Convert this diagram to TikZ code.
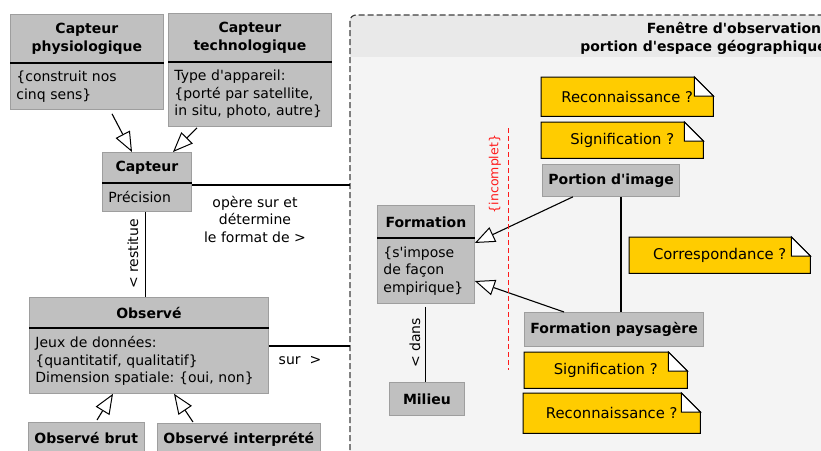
\documentclass[tikz,border=0pt]{standalone}
\usepackage{fontspec}
\setmainfont{DejaVu Sans}[Ligatures=TeXOff]
\usetikzlibrary{arrows.meta,calc}
\pgfdeclarelayer{frame}
\pgfdeclarelayer{notes}
\pgfsetlayers{frame,notes,main}
\frenchspacing

\definecolor{boxgray}{HTML}{C0C0C0}
\definecolor{boxline}{HTML}{9E9E9E}
\definecolor{noteyellow}{HTML}{FFCC00}
\definecolor{winhead}{HTML}{E9E9E9}
\definecolor{winbody}{HTML}{F4F4F4}
\definecolor{winedge}{HTML}{404040}
\definecolor{constraint}{HTML}{FF1A1A}

\newcommand{\txtsize}{\fontsize{14}{17.5}\selectfont}

\tikzset{
  every node/.style={font=\txtsize},
  classbox/.style={draw=boxline, fill=boxgray, anchor=north west,
    inner xsep=6pt, inner ysep=0pt, line width=0.8pt},
  classhead/.style={classbox, font=\txtsize\bfseries, align=center},
  classbody/.style={classbox, align=left},
  divider/.style={line width=1.2pt, black},
  link/.style={line width=1.1pt, black},
  inherit/.style={link, -{Triangle[length=20pt,width=16pt,fill=white,line width=1pt]}},
  notebox/.style={anchor=north west, inner sep=0pt, font=\fontsize{14.8}{17.5}\selectfont},
  notepaper/.style={fill=noteyellow, draw=black, line width=1pt},
  notefold/.style={fill=white, draw=black, line width=1pt},
  frameedge/.style={draw=winedge, line width=1.2pt, dash pattern=on 6pt off 3pt, rounded corners=6pt},
  linklabel/.style={inner sep=0pt, align=center},
}

% folded-corner note drawn behind its text
\newcommand{\notepaper}[1]{%
  \begin{pgfonlayer}{notes}
    \filldraw[notepaper] (#1.north west) -- ([xshift=-19pt]#1.north east)
      -- ([yshift=-19pt]#1.north east) -- (#1.south east) -- (#1.south west) -- cycle;
    \filldraw[notefold] ([xshift=-19pt]#1.north east) -- ([xshift=-19pt,yshift=-19pt]#1.north east)
      -- ([yshift=-19pt]#1.north east) -- cycle;
  \end{pgfonlayer}}

\begin{document}
\begin{tikzpicture}[x=1pt,y=-1pt]
\useasboundingbox (0,0) rectangle (821,450);
\clip (0,0) rectangle (821,450);

% observation window
\node[anchor=north west, minimum width=520pt, minimum height=470pt, inner sep=0pt] (win) at (350,15) {};
\begin{pgfonlayer}{frame}
  \fill[white] (0,0) rectangle (821,450);
  \fill[winbody, rounded corners=6pt] (win.north west) rectangle (win.south east);
  \begin{scope}
    \clip[rounded corners=6pt] (win.north west) rectangle (win.south east);
    \fill[winhead] (win.north west) rectangle ($(win.north east)+(0,42)$);
  \end{scope}
  \draw[frameedge] (win.north west) rectangle (win.south east);
\end{pgfonlayer}
\node[anchor=north east, font=\txtsize\bfseries, align=right, inner sep=0pt] (winTitle) at (827,22.5)
  {Fenêtre d'observation:\\portion d'espace géographique};

% sensors
\node[classhead, minimum width=153pt, minimum height=49pt] (physH) at (10,14) {Capteur\\physiologique};
\node[classbody, text width=141pt, minimum height=46pt] (physB) at (10,63) {\{construit nos\\cinq sens\}};
\draw[divider] (physB.north west) -- (physB.north east);

\node[classhead, minimum width=163pt, minimum height=49pt] (techH) at (168,13) {Capteur\\technologique};
\node[classbody, text width=151pt, minimum height=64pt] (techB) at (168,62)
  {Type d'appareil:\\\{porté par satellite,\\in situ, photo, autre\}};
\draw[divider] (techB.north west) -- (techB.north east);

\node[classhead, minimum width=89pt, minimum height=31pt] (capH) at (102,152) {Capteur};
\node[classbody, text width=77pt, minimum height=28pt] (capB) at (102,183) {Précision};
\draw[divider] (capB.north west) -- (capB.north east);

% observed data
\node[classhead, minimum width=239pt, minimum height=31pt] (obsH) at (29,297) {Observé};
\node[classbody, text width=227pt, minimum height=65pt] (obsB) at (29,328)
  {Jeux de données:\\\{quantitatif, qualitatif\}\\Dimension spatiale: \{oui, non\}};
\draw[divider] (obsB.north west) -- (obsB.north east);

\node[classhead, minimum width=111pt, minimum height=31pt] (brut) at (28,422) {Observé brut};
\node[classhead, minimum width=161pt, minimum height=31pt] (interp) at (157,423) {Observé interprété};

% formation side
\node[classhead, minimum width=97pt, minimum height=33pt] (formH) at (377,205) {Formation};
\node[classbody, text width=85pt, minimum height=65pt] (formB) at (377,238)
  {\{s'impose\\de façon\\empirique\}};
\draw[divider] (formB.north west) -- (formB.north east);

\node[classhead, minimum width=75pt, minimum height=33pt] (milieu) at (389,382) {Milieu};
\node[classhead, minimum width=131pt, minimum height=32pt] (portion) at (542,164) {Portion d'image};
\node[classhead, minimum width=178pt, minimum height=34pt] (fp) at (524,312) {Formation paysagère};

% notes
\node[notebox, minimum width=172pt, minimum height=39pt] (noteR1) at (541,77) {Reconnaissance ?};
\node[notebox, minimum width=162pt, minimum height=36pt] (noteS1) at (541,122) {Signification ?};
\node[notebox, minimum width=181pt, minimum height=36pt] (noteC) at (629,237) {Correspondance ?};
\node[notebox, minimum width=163pt, minimum height=36pt] (noteS2) at (524,352) {Signification ?};
\node[notebox, minimum width=177pt, minimum height=40pt] (noteR2) at (523,393) {Reconnaissance ?};
\notepaper{noteR1}
\notepaper{noteS1}
\notepaper{noteC}
\notepaper{noteS2}
\notepaper{noteR2}

% generalisations
\draw[inherit] ([xshift=102pt,yshift=-4pt]physB.south west) -- ([xshift=30pt]capH.north west);
\draw[inherit] ([xshift=29pt,yshift=-1pt]techB.south west) -- ([xshift=71pt]capH.north west);
\draw[inherit] ([xshift=69pt,yshift=2pt]brut.north west) -- ([xshift=84pt]obsB.south west);
\draw[inherit] ([xshift=36pt,yshift=1pt]interp.north west) -- ([xshift=145pt]obsB.south west);
\draw[inherit] ([xshift=31pt]portion.south west) -- ([yshift=-5pt]formB.north east);
\draw[inherit] ([xshift=40pt]fp.north west) -- ([yshift=-43pt]formB.north east);

% associations
\coordinate (capT) at ($(capB.north east)+(0,2)$);
\draw[link] (capT) -- (capT -| win.west);
\coordinate (obsT) at ($(obsB.north east)+(0,18)$);
\draw[link] (obsT) -- (obsT -| win.west);
\coordinate (restTop) at ($(capB.south)+(-1.5,0)$);
\draw[link] (restTop) -- (restTop |- obsH.north);
\coordinate (portBot) at ([xshift=79pt]portion.south west);
\draw[link] (portBot) -- (portBot |- fp.north);
\draw[link] ([yshift=-3pt]formB.south) -- (formB.south |- milieu.north);

\node[linklabel] (lblOpere) at (255,219) {opère sur et\\détermine\\le format de >};
\node[linklabel, rotate=90] (lblRest) at (133,254) {< restitue};
\node[linklabel] (lblSur) at (300,361) {sur~~>};
\node[linklabel, rotate=90] (lblDans) at (415,343) {< dans};

% incompleteness constraint
\coordinate (incTop) at (508,128);
\coordinate (incBot) at (508,370);
\draw[constraint, line width=1pt, dash pattern=on 5pt off 3pt] (incTop) -- (incBot);
\node[linklabel, rotate=90, text=constraint, font=\fontsize{12.5}{15}\selectfont] (lblInc) at (495,174) {\{incomplet\}};
\end{tikzpicture}
\end{document}
